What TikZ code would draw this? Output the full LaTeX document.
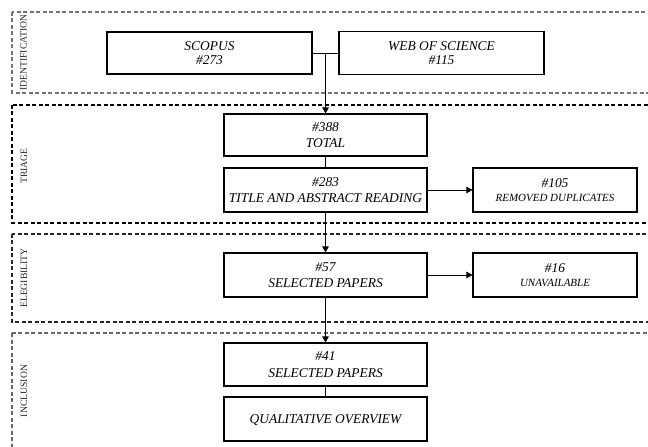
\documentclass[tikz,border=0pt]{standalone}
\usepackage{fontspec}
\setmainfont{Liberation Serif}
\usetikzlibrary{arrows.meta}
\begin{document}
\begin{tikzpicture}[x=1bp,y=-1bp,
  box/.style={draw=black, line width=1.1bp, inner sep=0pt, align=center,
    text depth=0pt, font=\itshape\fontsize{13.5}{16.5}\selectfont},
  idbox/.style={box, font=\itshape\fontsize{13.5}{14.5}\selectfont},
  sidebox/.style={box, minimum width=164bp, minimum height=44bp},
  mainbox/.style={box, minimum width=203bp},
  panel/.style={dash pattern=on 4bp off 2.5bp, line width=1.2bp},
  plabel/.style={rotate=90, inner sep=0pt, text=black!85,
    font=\fontsize{9.7}{11}\selectfont},
  conn/.style={draw=black, line width=0.8bp},
  arr/.style={conn, -{Triangle[length=6bp,width=6.5bp]}}
]
\useasboundingbox (0,0) rectangle (648,447);
\fill[white] (0,0) rectangle (648,447);
\clip (0,0) rectangle (648,447);

% panels
\draw[panel, draw=black!55] (12,12) rectangle (670,93);
\draw[panel, draw=black] (12,105) rectangle (670,223);
\draw[panel, draw=black!85] (12,234) rectangle (670,322);
\draw[panel, draw=black!60] (12,333) rectangle (670,470);

\node[plabel] (lid) at (23.5,52.5) {IDENTIFICATION};
\node[plabel] (ltr) at (24,166) {TRIAGE};
\node[plabel] (lel) at (24,278) {ELEGIBILITY};
\node[plabel] (lin) at (24,391) {INCLUSION};

% boxes
\node[idbox, minimum width=205bp, minimum height=42bp] (scopus) at (209.5,53) {SCOPUS\\\#273};
\node[idbox, minimum width=205bp, minimum height=43bp] (wos) at (441.5,53) {WEB OF SCIENCE\\\#115};
\node[mainbox, minimum height=42bp] (total) at (325.5,135) {\#388\\TOTAL};
\node[mainbox, minimum height=44bp] (title) at (325.5,190) {\#283\\TITLE AND ABSTRACT READING};
\node[sidebox] (removed) at (555,190) {\#105\\[-2.5bp]{\fontsize{11}{13}\selectfont REMOVED DUPLICATES}};
\node[mainbox, minimum height=44bp] (sel57) at (325.5,275) {\#57\\SELECTED PAPERS};
\node[sidebox] (unavail) at (555,275) {\#16\\[-2.5bp]{\fontsize{11}{13}\selectfont UNAVAILABLE}};
\node[mainbox, minimum height=43bp] (sel41) at (325.5,364.5) {\#41\\SELECTED PAPERS};
\node[mainbox, minimum height=44bp] (qual) at (325.5,419) {QUALITATIVE OVERVIEW};

% connectors
\coordinate (j) at (325.5,53);
\draw[conn] (scopus.east) -- (wos.west);
\draw[arr] (j) -- (total.north);
\draw[conn] (total.south) -- (title.north);
\draw[arr] (title.east) -- (removed.west);
\draw[arr] (title.south) -- (sel57.north);
\draw[arr] (sel57.east) -- (unavail.west);
\draw[arr] (sel57.south) -- (sel41.north);
\draw[conn] (sel41.south) -- (qual.north);
\end{tikzpicture}
\end{document}
